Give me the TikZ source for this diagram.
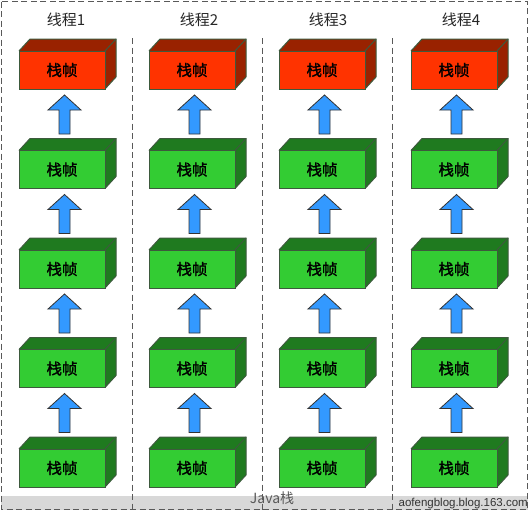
\documentclass[tikz,border=0pt]{standalone}
\usepackage{fontspec}
\setmainfont{Liberation Sans}
\newfontfamily\cjk{Noto Sans CJK SC}
\newfontfamily\cjkb[FakeBold=1.3]{Noto Sans CJK SC}
\definecolor{redfront}{HTML}{FF3300}
\definecolor{redside}{HTML}{992200}
\definecolor{greenfront}{HTML}{33CC33}
\definecolor{greenside}{HTML}{1F7A1F}
\definecolor{arrowblue}{HTML}{3399FF}
\definecolor{edgecol}{HTML}{3D5A3D}
\definecolor{bandgray}{HTML}{D8D8D8}
\tikzset{
  frameedge/.style={draw=edgecol, line width=1pt, line join=miter},
  dashline/.style={draw=black!65, dash pattern=on 6pt off 3.5pt, line width=1pt},
  titletext/.style={font=\cjk\fontsize{15}{17}\selectfont, text=black!85, inner sep=0pt},
  frametext/.style={font=\cjkb\fontsize{15.5}{17}\selectfont, text=black, inner sep=0pt},
  uparrow/.style={fill=arrowblue, draw=black!80, line width=0.8pt, line join=miter}
}
\newcommand{\stackframe}[5]{% name, x, y, frontcolor, sidecolor
  \fill[#5] (#2,#3) -- ++(11,-12) -- ++(86,0) -- ++(0,38) -- ++(-11,12) -- ++(0,-38) -- cycle;
  \draw[frameedge] (#2,#3) -- ++(11,-12) -- ++(86,0) -- ++(0,38) -- ++(-11,12);
  \draw[frameedge] (#2+86,#3) -- ++(11,-12);
  \fill[#4] (#2,#3) rectangle ++(86,38);
  \draw[frameedge] (#2,#3) rectangle ++(86,38);
  \node[frametext] (#1) at (#2+43,#3+19) {栈帧};
}
\newcommand{\blockarrow}[3]{% name, cx, tipy
  \draw[uparrow] (#2,#3) -- (#2+16.5,#3+15) -- (#2+5.5,#3+15) -- (#2+5.5,#3+39)
     -- (#2-5.5,#3+39) -- (#2-5.5,#3+15) -- (#2-16.5,#3+15) -- cycle;
  \coordinate (#1) at (#2,#3+20);
}
\begin{document}
\begin{tikzpicture}[x=1pt,y=-1pt]
  \useasboundingbox (0,0) rectangle (530,512);
  \fill[white] (0,0) rectangle (530,512);
  % gray band
  \fill[bandgray] (1,496) rectangle (528,510);
  % outer frame and dividers
  \draw[dashline] (1.5,1.5) rectangle (527.5,509.5);
  \foreach \xd in {132,262,392} {
    \draw[dashline] (\xd,38) -- (\xd,509.5);
  }
  % columns
  \foreach \c/\xl/\tx in {1/19/66, 2/149/199, 3/279/328, 4/411/461} {
    \node[titletext] (title\c) at (\tx,20) {线程\c};
    \stackframe{f\c r0}{\xl}{51}{redfront}{redside}
    \foreach \r in {1,2,3,4} {
      \pgfmathsetmacro{\yy}{51+99.5*\r}
      \stackframe{f\c r\r}{\xl}{\yy}{greenfront}{greenside}
    }
    \foreach \r in {0,1,2,3} {
      \pgfmathsetmacro{\ty}{95+99.5*\r}
      \blockarrow{a\c r\r}{\xl+45.5}{\ty}
    }
  }
  \node[font=\cjk\fontsize{14}{16}\selectfont, text=black!65, inner sep=0pt] (javastack) at (272,498) {Java栈};
  \node[font=\fontsize{11.5}{13}\selectfont, text=black!80, inner sep=0pt, anchor=east] (mark) at (528,504) {aofengblog.blog.163.com};
\end{tikzpicture}
\end{document}
